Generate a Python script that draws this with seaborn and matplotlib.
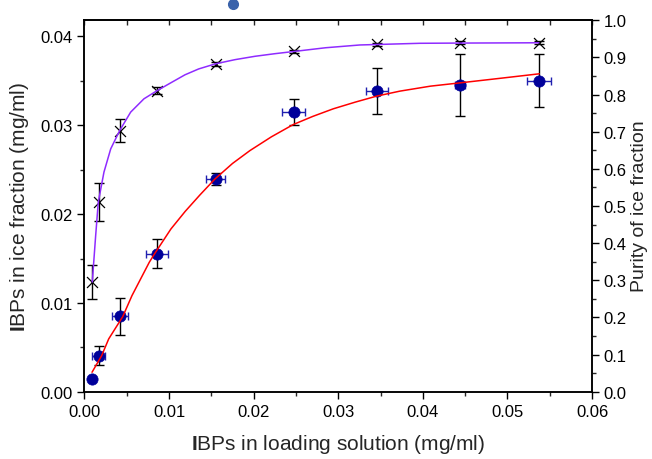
import numpy as np
import pandas as pd
import matplotlib
matplotlib.use("Agg")
import matplotlib.pyplot as plt
from matplotlib.ticker import MultipleLocator, FormatStrFormatter
import seaborn as sns

# IBPs in loading solution (mg/ml) vs IBPs in ice fraction (mg/ml)
load_x = [0.00092, 0.00171, 0.0042, 0.0086, 0.01551, 0.02476, 0.03457, 0.04442, 0.05372]
load_xerr = [0.0, 0.00077, 0.00093, 0.00132, 0.00112, 0.00136, 0.0013, 0.0006, 0.00138]
ice_y = [0.00144, 0.00407, 0.0085, 0.01555, 0.02396, 0.03154, 0.03384, 0.03455, 0.03503]
ice_yerr = [0.0, 0.00109, 0.00208, 0.00167, 0.00066, 0.00146, 0.00263, 0.00346, 0.00297]

# purity of ice fraction (right axis)
purity = [0.2957, 0.5104, 0.7032, 0.8109, 0.8829, 0.916, 0.935, 0.939, 0.9394]
purity_err = [0.045, 0.0504, 0.0315, 0.01, 0.006, 0.004, 0.004, 0.004, 0.004]

# fitted curves
red_x = [0.00089, 0.00203, 0.00286, 0.00452, 0.00561, 0.00766, 0.00833, 0.01022,
         0.0119, 0.01365, 0.01543, 0.0175, 0.01956, 0.0221, 0.02468, 0.027,
         0.02941, 0.032, 0.03454, 0.03729, 0.0409, 0.04439, 0.04911, 0.05376]
red_y = [0.0022, 0.00407, 0.00595, 0.00846, 0.01082, 0.01458, 0.0156, 0.01833,
         0.0203, 0.02216, 0.02396, 0.0257, 0.02715, 0.0287, 0.03008, 0.031,
         0.03185, 0.0326, 0.03328, 0.03384, 0.0344, 0.03477, 0.03528, 0.03579]
purple_x = [0.00092, 0.00132, 0.00163, 0.0023, 0.0031, 0.00416, 0.00546, 0.00703,
            0.00861, 0.01, 0.01188, 0.0135, 0.01551, 0.0178, 0.02015, 0.0225,
            0.02476, 0.0285, 0.03256, 0.03966, 0.04439, 0.05372]
purple_y = [0.2957, 0.4204, 0.5104, 0.5912, 0.6539, 0.7032, 0.7528, 0.7886,
            0.8109, 0.829, 0.8532, 0.869, 0.8829, 0.894, 0.903, 0.910,
            0.916, 0.926, 0.9335, 0.938, 0.9386, 0.9394]

# stray marker above the plot frame
stray_x = [0.0175]
stray_y = [0.04367]

df = pd.DataFrame({"x": load_x, "ice": ice_y, "purity": purity})
red = pd.DataFrame({"x": red_x, "y": red_y})
purple = pd.DataFrame({"x": purple_x, "y": purple_y})

sns.set_style("ticks")
plt.rcParams["font.family"] = ["Liberation Sans", "DejaVu Sans"]
plt.rcParams["mathtext.fontset"] = "custom"
plt.rcParams["mathtext.rm"] = "Liberation Sans"
plt.rcParams["mathtext.bf"] = "Liberation Sans:bold"

fig = plt.figure(figsize=(6.52, 4.6), dpi=100)
ax = fig.add_axes([0.1296, 0.1461, 0.7784, 0.8093])
ax2 = ax.twinx()

blue = "#00009a"

# left axis: IBPs in ice fraction
ax.errorbar(load_x, ice_y, yerr=ice_yerr, fmt="none", ecolor="black",
            elinewidth=1, capsize=3.4, capthick=1, zorder=2)
ax.errorbar(load_x, ice_y, xerr=load_xerr, fmt="none", ecolor="#2020b0",
            elinewidth=1, capsize=2.8, capthick=1, zorder=2)
sns.scatterplot(data=df, x="x", y="ice", ax=ax, color=blue, s=66,
                edgecolor=blue, linewidth=0.5, zorder=3)
sns.lineplot(data=red, x="x", y="y", ax=ax, color="#ff0000", linewidth=1.1,
             sort=False, estimator=None, zorder=4)
ax.plot(stray_x, stray_y, "o", color="#3a62aa", markersize=7, clip_on=False,
        zorder=5)

# right axis: purity
ax2.errorbar(load_x, purity, yerr=purity_err, fmt="none", ecolor="black",
             elinewidth=1, capsize=3.4, capthick=1, zorder=2)
sns.scatterplot(data=df, x="x", y="purity", ax=ax2, marker="x", color="black",
                s=62, linewidth=0.9, zorder=3)
sns.lineplot(data=purple, x="x", y="y", ax=ax2, color="#8f2bff", linewidth=1.1,
             sort=False, estimator=None, zorder=4)

ax.set_xlim(0, 0.06)
ax.set_ylim(0, 0.0419)
ax2.set_ylim(0, 1.002)

ax.xaxis.set_major_locator(MultipleLocator(0.01))
ax.xaxis.set_minor_locator(MultipleLocator(0.005))
ax.yaxis.set_major_locator(MultipleLocator(0.01))
ax.yaxis.set_minor_locator(MultipleLocator(0.005))
ax.xaxis.set_major_formatter(FormatStrFormatter("%.2f"))
ax.yaxis.set_major_formatter(FormatStrFormatter("%.2f"))
ax2.yaxis.set_major_locator(MultipleLocator(0.1))
ax2.yaxis.set_minor_locator(MultipleLocator(0.05))
ax2.yaxis.set_major_formatter(FormatStrFormatter("%.1f"))

for a in (ax, ax2):
    a.tick_params(which="major", direction="out", length=5, width=1,
                  labelsize=12, colors="black")
    a.tick_params(which="minor", direction="out", length=3, width=1)
    for s in a.spines.values():
        s.set_linewidth(1.1)
        s.set_color("black")
        s.set_visible(True)

top = ax.secondary_xaxis("top")
top.xaxis.set_major_locator(MultipleLocator(0.01))
top.xaxis.set_minor_locator(MultipleLocator(0.005))
top.tick_params(which="both", direction="in", length=3.5, width=1,
                labeltop=False)
top.spines["top"].set_linewidth(1.1)

ax.set_xlabel(r"$\mathbf{I}$BPs in loading solution (mg/ml)", fontsize=15,
              labelpad=10)
ax.set_ylabel(r"$\mathbf{I}$BPs in ice fraction (mg/ml)", fontsize=15,
              labelpad=7)
ax2.set_ylabel("Purity of ice fraction", fontsize=14, labelpad=3)

fig.savefig("out.png", dpi=100)
